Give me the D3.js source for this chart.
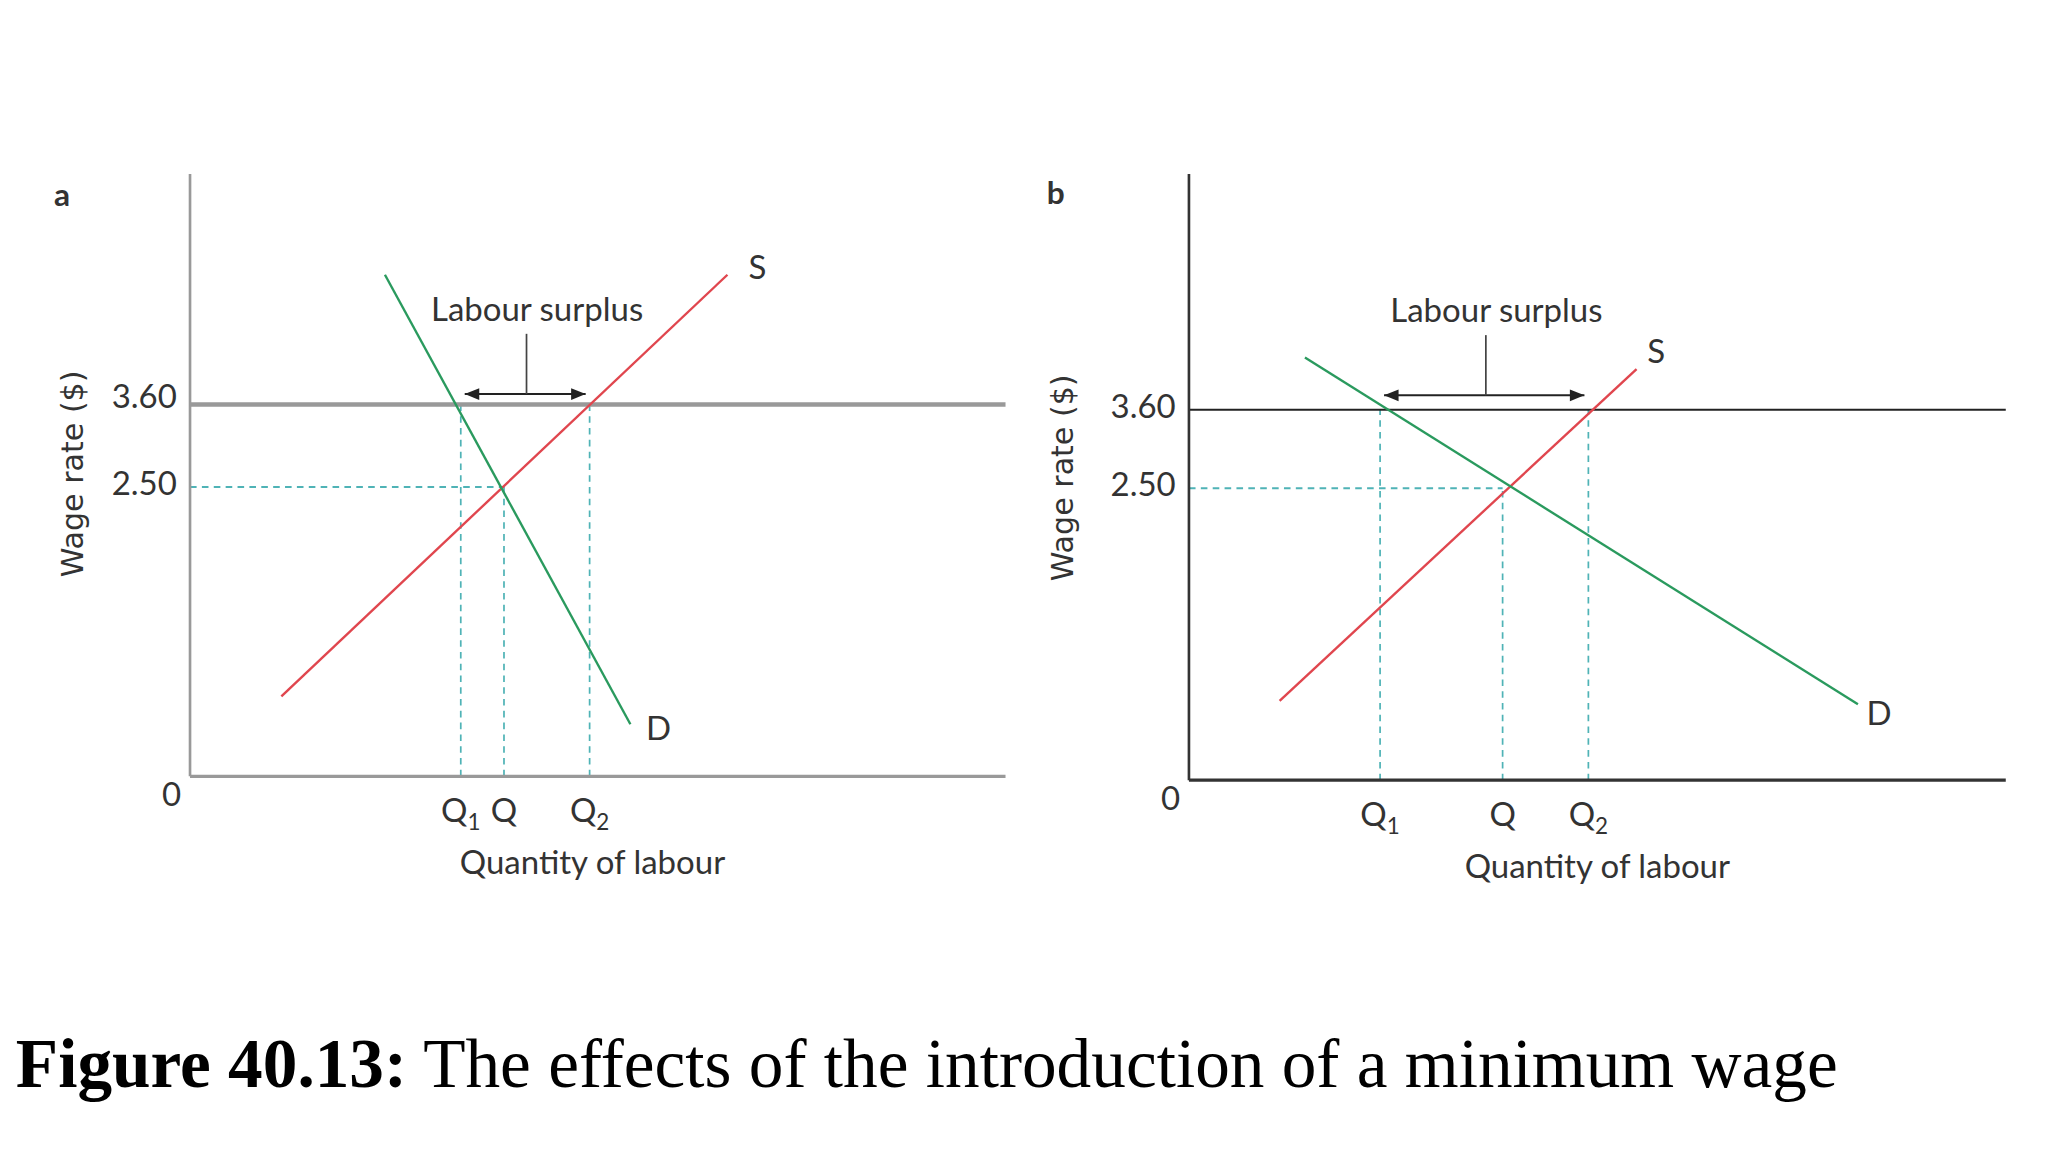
<!DOCTYPE html><html><head><meta charset="utf-8"><script src="https://cdn.jsdelivr.net/npm/d3@7"></script>
<style>body{margin:0;background:#fff}svg{display:block}</style></head><body><svg id="c" width="2048" height="1152" viewBox="0 0 1552 880" preserveAspectRatio="none"></svg>
<script>
// data (quantity units 0-100, wage in $)
const panels = ["a","b"];
const wageTicks = [2.50, 3.60];
const minWage = 3.60, eqWage = 2.50;
const qLabelsA = [["Q","1",33.2],["Q","",38.5],["Q","2",49.0]];
const qLabelsB = [["Q","1",23.4],["Q","",38.4],["Q","2",48.9]];
const supplyA = [[11.2,0.69],[65.9,5.33]];
const demandA = [[23.9,5.33],[54.0,0.45]];
const supplyB = [[11.1,0.68],[54.8,4.17]];
const demandB = [[14.2,4.33],[81.9,0.65]];

const svg = d3.select("#c");
const red="#e0464e", green="#2a9a5e", teal="#4fb3b6";
const font="Lato, 'Open Sans', sans-serif";

function panel(cfg){
  const g = svg.append("g");
  const x = d3.scaleLinear().domain([0,100]).range([cfg.x0,cfg.x1]);
  const y = d3.scaleLinear().domain([0,2.5,3.6,6]).range(cfg.yr);
  const [q1,q,q2] = cfg.q.map(d=>d[2]);
  const dash = "5,4";
  g.append("line").attr("x1",x(0)).attr("x2",x(q)).attr("y1",y(eqWage)).attr("y2",y(eqWage)).attr("stroke",teal).attr("stroke-width",1.6).attr("stroke-dasharray",dash);
  [[q1,minWage],[q,eqWage],[q2,minWage]].forEach(([qq,w])=>{
    g.append("line").attr("x1",x(qq)).attr("x2",x(qq)).attr("y1",y(0)).attr("y2",y(w)).attr("stroke",teal).attr("stroke-width",1.3).attr("stroke-dasharray",dash);
  });
  g.append("line").attr("x1",x(0)).attr("x2",x(100)).attr("y1",y(minWage)).attr("y2",y(minWage)).attr("stroke",cfg.mwColor).attr("stroke-width",cfg.mwW);
  const line=d3.line().x(d=>x(d[0])).y(d=>y(d[1]));
  g.append("path").attr("d",line(cfg.s)).attr("stroke",red).attr("stroke-width",1.8).attr("fill","none");
  g.append("path").attr("d",line(cfg.d)).attr("stroke",green).attr("stroke-width",1.8).attr("fill","none");
  g.append("line").attr("x1",x(0)).attr("x2",x(0)).attr("y1",cfg.top).attr("y2",y(0)).attr("stroke",cfg.axColor).attr("stroke-width",2);
  g.append("line").attr("x1",x(0)).attr("x2",x(100)).attr("y1",y(0)).attr("y2",y(0)).attr("stroke",cfg.axColor).attr("stroke-width",2.5);
  const ay = y(minWage)-cfg.arrowOff;
  const ax1=x(q1)+3, ax2=x(q2)-3;
  g.append("line").attr("x1",ax1).attr("x2",ax2).attr("y1",ay).attr("y2",ay).attr("stroke","#222").attr("stroke-width",1.5);
  g.append("path").attr("d",`M${ax1},${ay}l11,-4.5v9z`).attr("fill","#222");
  g.append("path").attr("d",`M${ax2},${ay}l-11,-4.5v9z`).attr("fill","#222");
  g.append("line").attr("x1",cfg.stemX).attr("x2",cfg.stemX).attr("y1",ay-46).attr("y2",ay).attr("stroke","#444").attr("stroke-width",1.3);
  const t=(tx,ty,s,o={})=>g.append("text").attr("x",tx).attr("y",ty).text(s).attr("font-family",font).attr("font-size",o.fs||25).attr("fill",o.c||"#333").attr("text-anchor",o.a||"middle");
  t(cfg.stemX+8,ay-56,"Labour surplus");
  t(cfg.sLab[0],cfg.sLab[1],"S");
  t(cfg.dLab[0],cfg.dLab[1],"D");
  t(x(0)-14,y(0)+23,"0");
  wageTicks.forEach(w=>t(x(0)-10,y(w)+6+cfg.tickOff[w===2.5?0:1],w.toFixed(2),{a:"end"}));
  cfg.q.forEach(([b,sub,v])=>{
    const tt=t(x(v),y(0)+35,"");
    tt.append("tspan").text(b);
    if(sub) tt.append("tspan").text(sub).attr("font-size",17).attr("dy",6);
  });
  t((x(0)+x(100))/2-cfg.qlOff,y(0)+75,"Quantity of labour");
  g.append("text").attr("transform",`translate(${cfg.wx},${cfg.wy}) rotate(-90)`).attr("text-anchor","middle").attr("font-family","'DejaVu Sans',sans-serif").attr("font-size",23).attr("fill","#333").text("Wage rate ($)");
  t(cfg.lab[0],cfg.lab[1],cfg.name,{fs:24,c:"#333"}).attr("font-weight","bold");
}
panel({name:panels[0],x0:144,x1:762,yr:[593,372,309,171.5],top:133,q:qLabelsA,s:supplyA,d:demandA,mwColor:"#999",mwW:3.5,axColor:"#999",arrowOff:8,stemX:399,sLab:[574,213],dLab:[499,565],tickOff:[0,-3],qlOff:4,wx:63,wy:362,lab:[47,157]});
panel({name:panels[1],x0:901,x1:1520,yr:[596,373,313,182],top:133,q:qLabelsB,s:supplyB,d:demandB,mwColor:"#222",mwW:1.6,axColor:"#333",arrowOff:11,stemX:1126,sLab:[1255,277],dLab:[1424,554],tickOff:[0,0],qlOff:0,wx:813,wy:365,lab:[800,156]});
const cap=svg.append("text").attr("x",12).attr("y",830).attr("font-family","'Liberation Serif','Times New Roman',serif").attr("font-size",52.5).attr("fill","#000");
cap.append("tspan").text("Figure 40.13:").attr("font-weight","bold");
cap.append("tspan").text(" The effects of the introduction of a minimum wage");
</script></body></html>
